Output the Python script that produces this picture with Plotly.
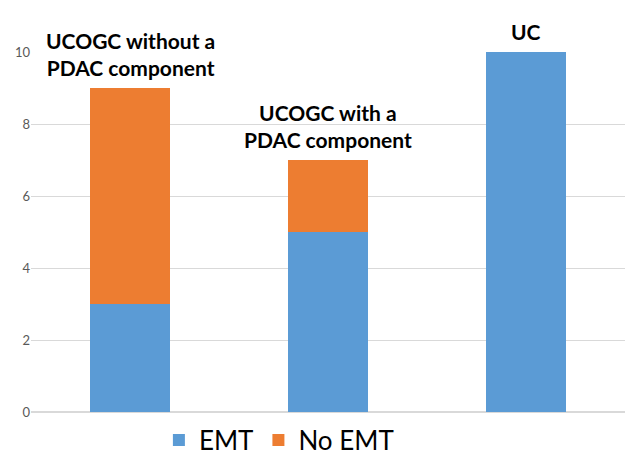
import plotly.graph_objects as go

categories = ["UCOGC without a<br>PDAC component", "UCOGC with a<br>PDAC component", "UC"]
emt = [3, 5, 10]
no_emt = [6, 2, 0]
yticks = [0, 2, 4, 6, 8, 10]

x = [0, 1, 2]
fig = go.Figure()
fig.add_trace(go.Bar(x=x, y=emt, name="EMT", marker=dict(color="#5B9BD5", line=dict(width=0))))
fig.add_trace(go.Bar(x=x, y=no_emt, name="No EMT", marker=dict(color="#ED7D31", line=dict(width=0))))

for xi, cat, a, b in zip(x, categories, emt, no_emt):
    fig.add_annotation(x=xi, y=a + b, text=cat, showarrow=False, yanchor="bottom", yshift=6,
                       font=dict(family="Lato", size=21, color="black", weight="bold"))

fig.update_layout(
    barmode="stack", bargap=0.6,
    width=630, height=450,
    margin=dict(l=23, r=13, t=44, b=46, autoexpand=False),
    plot_bgcolor="white", paper_bgcolor="white",
    showlegend=True,
    legend=dict(orientation="h", x=0.43, xanchor="center", xref="container",
                y=0.04, yanchor="middle", yref="container",
                font=dict(family="Lato", size=26, color="black"), itemwidth=30, traceorder="normal",
                tracegroupgap=0),
    xaxis=dict(showticklabels=False, showgrid=False, zeroline=False, range=[-0.5, 2.5], automargin=False),
    yaxis=dict(range=[0, 10], tickvals=yticks, showgrid=True, gridcolor="#D9D9D9", gridwidth=1,
               zeroline=True, zerolinecolor="#D9D9D9", tickfont=dict(family="Lato", size=13, color="#595959"),
               ticks="", ticklen=0, showline=False, automargin=False),
    font=dict(family="Lato"),
)
fig.write_html("out.html")
